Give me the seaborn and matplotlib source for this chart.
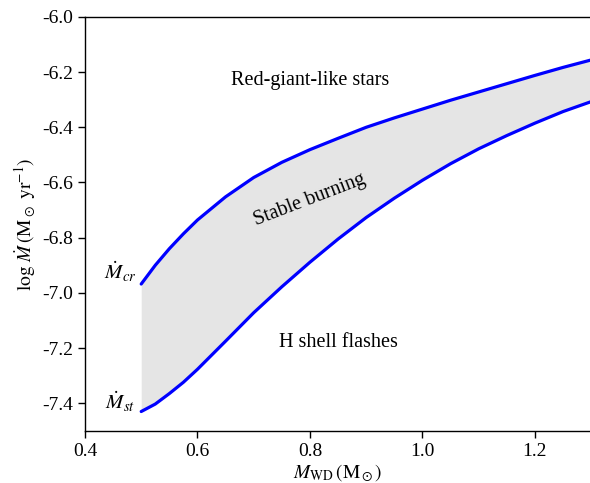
import numpy as np
import pandas as pd
import matplotlib
matplotlib.use("Agg")
import matplotlib.pyplot as plt
import seaborn as sns

# white dwarf mass (Msun) and the two critical accretion rates (log Msun/yr)
m_wd = [0.500, 0.525, 0.550, 0.575, 0.60, 0.65, 0.70, 0.75, 0.80, 0.85, 0.90,
        0.95, 1.00, 1.05, 1.10, 1.15, 1.20, 1.25, 1.30]
log_mdot_cr = [-6.968, -6.900, -6.840, -6.786, -6.736, -6.652, -6.582, -6.527, -6.481,
               -6.440, -6.400, -6.366, -6.334, -6.302, -6.272, -6.242, -6.212, -6.183, -6.156]
log_mdot_st = [-7.430, -7.403, -7.365, -7.324, -7.277, -7.175, -7.072, -6.978, -6.889,
               -6.805, -6.727, -6.657, -6.592, -6.532, -6.478, -6.430, -6.385, -6.343, -6.307]

x_ticks = [0.4, 0.6, 0.8, 1.0, 1.2]
y_ticks = [-6.0, -6.2, -6.4, -6.6, -6.8, -7.0, -7.2, -7.4]

df = pd.DataFrame({"m": m_wd, "cr": log_mdot_cr, "st": log_mdot_st})

sns.set_theme(style="ticks")
plt.rcParams["font.family"] = ["Liberation Serif", "DejaVu Serif"]
plt.rcParams["mathtext.fontset"] = "stix"
plt.rcParams["axes.unicode_minus"] = False
plt.rcParams["text.color"] = "black"
plt.rcParams["axes.labelcolor"] = "black"
plt.rcParams["xtick.color"] = "black"
plt.rcParams["ytick.color"] = "black"

fig = plt.figure(figsize=(5.9, 4.83), dpi=100)
ax = fig.add_axes([0.144, 0.108, 0.858, 0.857])

ax.fill_between(df["m"], df["st"], df["cr"], color="#e5e5e5", lw=0)
sns.lineplot(data=df, x="m", y="cr", color="blue", lw=2.3, ax=ax)
sns.lineplot(data=df, x="m", y="st", color="blue", lw=2.3, ax=ax)

ax.set_xlim(0.4, 1.3)
ax.set_ylim(-7.5, -6.0)
ax.set_xticks(x_ticks)
ax.set_yticks(y_ticks)
ax.set_xticklabels([f"{v:.1f}" for v in x_ticks])
ax.set_yticklabels([f"{v:.1f}" for v in y_ticks])
ax.tick_params(labelsize=14, length=5, width=1, direction="out", colors="black")
for s in ["left", "bottom", "top"]:
    ax.spines[s].set_linewidth(1.0)
    ax.spines[s].set_color("black")
ax.spines["right"].set_visible(False)

ax.set_xlabel(r"$M_{\rm WD}\,(\rm M_\odot)$", fontsize=14, labelpad=2)
ax.set_ylabel(r"$\log\,\dot{M}\,(\rm M_\odot\ yr^{-1})$", fontsize=14, labelpad=3)

# region labels
ax.text(0.8, -6.23, "Red-giant-like stars", fontsize=14.5, ha="center", va="center")
ax.text(0.8, -6.665, "Stable burning", fontsize=14.5, ha="center", va="center", rotation=21)
ax.text(0.85, -7.18, "H shell flashes", fontsize=14.5, ha="center", va="center")
ax.text(0.462, -6.925, r"$\dot{M}_{cr}$", fontsize=15, ha="center", va="center")
ax.text(0.462, -7.395, r"$\dot{M}_{st}$", fontsize=15, ha="center", va="center")

fig.savefig("out.png", dpi=100)
